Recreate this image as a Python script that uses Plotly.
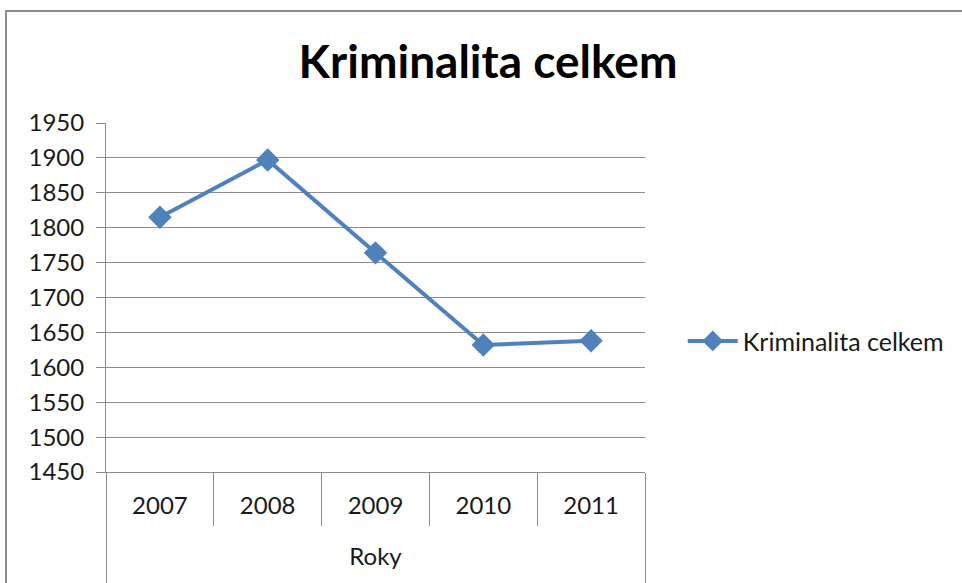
import plotly.graph_objects as go

years = ["2007", "2008", "2009", "2010", "2011"]
values = [1815, 1897, 1764, 1632, 1638]
series_name = "Kriminalita celkem"
title_text = "Kriminalita celkem"
x_title = "Roky"

FONT = "Lato"
BLUE = "#4F81BD"
GRID = "#8c8c8c"
TXT = "#1a1a1a"

n = len(years)
inner_bounds = [i - 0.5 for i in range(1, n)]
outer_bounds = [-0.5, n - 0.5]

fig = go.Figure()
fig.add_trace(go.Scatter(
    x=years, y=values, name=series_name,
    mode="lines+markers",
    line=dict(color=BLUE, width=4),
    marker=dict(symbol="diamond", size=18, color=BLUE),
    showlegend=True,
))
# empty helper traces so the overlay tick axes (category dividers) are drawn
for ax in ("x2", "x3"):
    fig.add_trace(go.Scatter(x=[], y=[], xaxis=ax, yaxis="y", showlegend=False,
                             hoverinfo="skip", mode="markers"))

fig.update_layout(
    width=962, height=583,
    margin=dict(l=106, r=317, t=123, b=111),
    paper_bgcolor="white", plot_bgcolor="white",
    font=dict(family=FONT, size=24, color=TXT),
    title=dict(text="<b>" + title_text + "</b>", x=488/962, xref="container",
               xanchor="center", y=1 - 62/583, yref="container", yanchor="middle",
               font=dict(family=FONT, size=46, color="black")),
    showlegend=True,
    legend=dict(x=1.07, xanchor="left", y=0.375, yanchor="middle",
                font=dict(size=25, color=TXT), bgcolor="rgba(0,0,0,0)",
                itemwidth=50),
    xaxis=dict(type="category", range=[-0.5, n - 0.5], showgrid=False, showline=True,
               linecolor=GRID, linewidth=1, ticks="",
               ticklabelstandoff=12, automargin=False,
               tickfont=dict(size=24, color=TXT),
               title=dict(text=x_title, standoff=30, font=dict(size=24, color=TXT))),
    xaxis2=dict(overlaying="x", anchor="y", side="bottom", range=[-0.5, n - 0.5],
                tickmode="array", tickvals=inner_bounds, showticklabels=False,
                ticks="outside", ticklen=53, tickcolor=GRID, tickwidth=1,
                automargin=False,
                showgrid=False, zeroline=False, showline=False, fixedrange=True),
    xaxis3=dict(overlaying="x", anchor="y", side="bottom", range=[-0.5, n - 0.5],
                tickmode="array", tickvals=outer_bounds, showticklabels=False,
                ticks="outside", ticklen=110, tickcolor=GRID, tickwidth=1,
                automargin=False,
                showgrid=False, zeroline=False, showline=False, fixedrange=True),
    yaxis=dict(range=[1450, 1950], dtick=50, tick0=1450,
               showgrid=True, gridcolor=GRID, gridwidth=1,
               showline=True, linecolor=GRID, linewidth=1,
               ticks="outside", ticklen=9, tickcolor=GRID, ticklabelstandoff=7,
               automargin=False,
               tickfont=dict(size=24, color=TXT), zeroline=False),
    shapes=[dict(type="rect", xref="paper", yref="paper",
                 x0=(6 - 106) / 539, x1=1.7, y0=-0.5, y1=(472 - 11) / 349,
                 line=dict(color="#8c8c8c", width=2), layer="below")],
)

fig.write_html("out.html", config={"displayModeBar": False},
               post_script="document.body.style.margin='0';")
